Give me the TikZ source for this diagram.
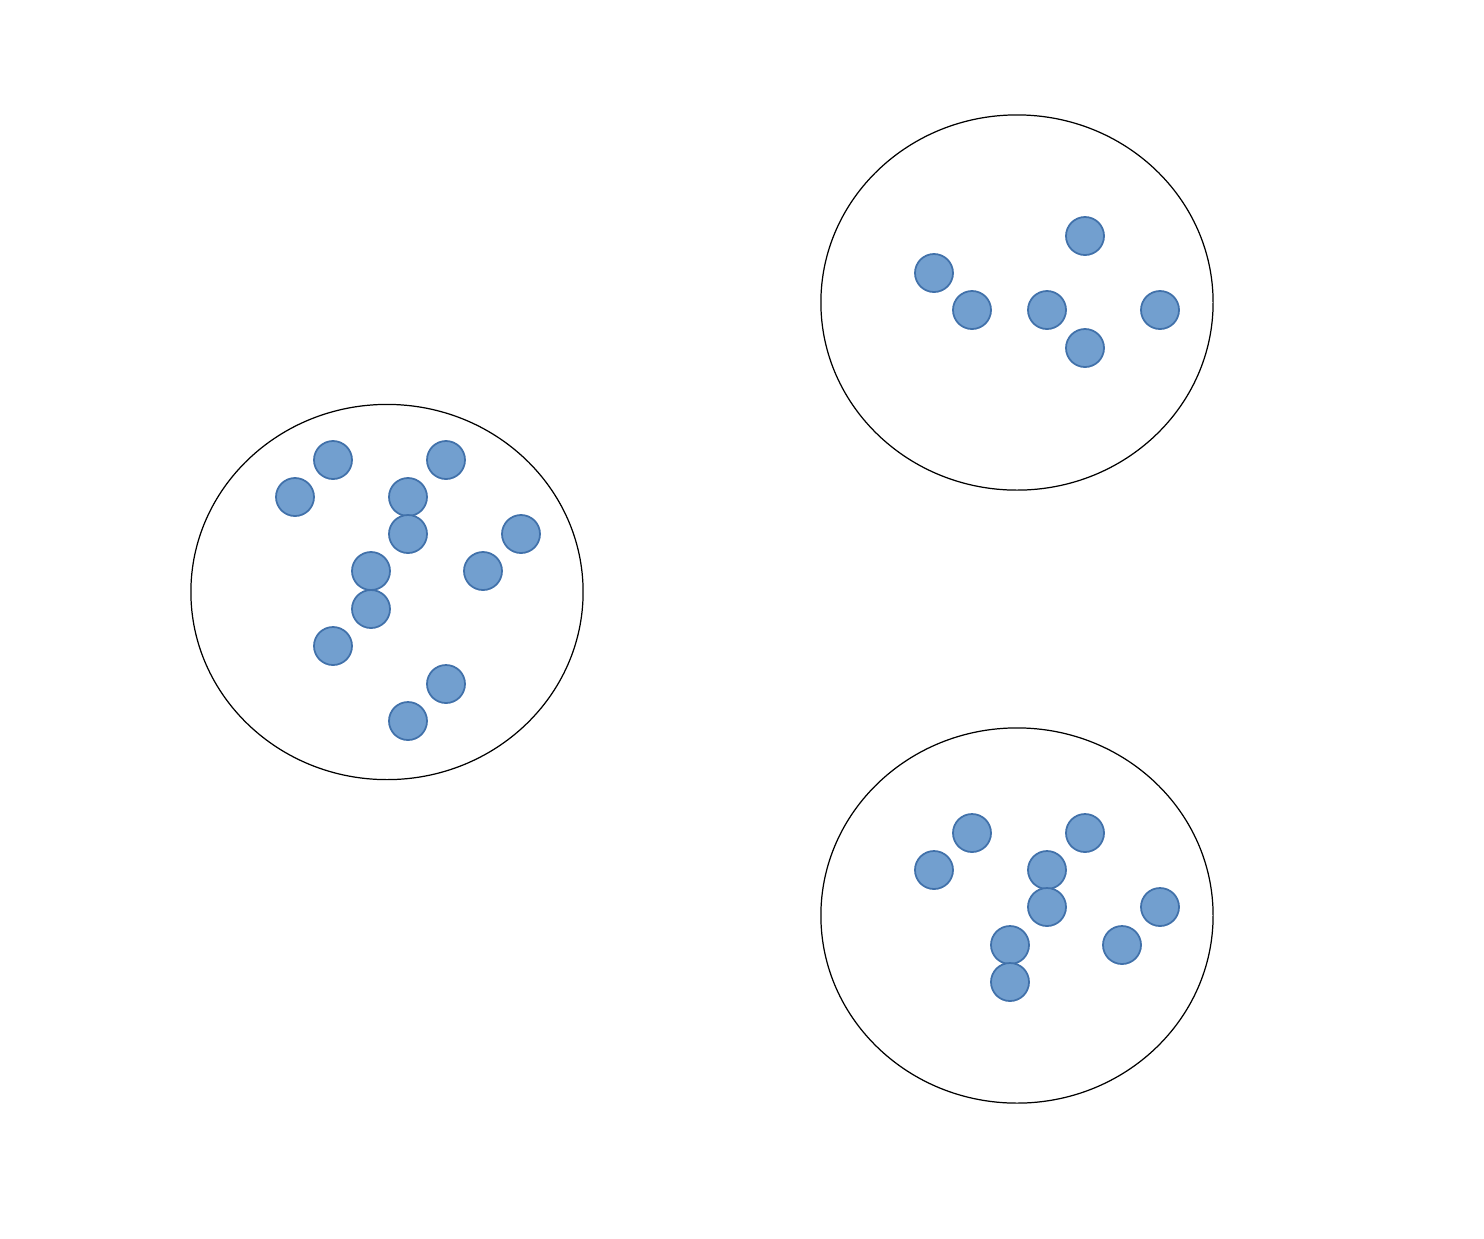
\documentclass[tikz,border=0pt]{standalone}
\usetikzlibrary{shapes.geometric}
\definecolor{dotfill}{RGB}{114,159,207}
\definecolor{dotline}{RGB}{65,113,170}
\begin{document}
\begin{tikzpicture}[
    x=0.01cm, y=-0.01cm,
    group/.style={
        draw=black, line width=0.35pt, ellipse,
        minimum width=3.92cm, minimum height=3.75cm, inner sep=0pt
    },
    item/.style={
        circle, fill=dotfill, draw=dotline, line width=0.5pt,
        minimum size=0.38cm, inner sep=0pt
    }
]
\useasboundingbox (0,0) rectangle (1484,1238);

% Groups
\node[group] (left) at (387,592) {};
\node[group] (upper) at (1017,302.5) {};
\node[group] (lower) at (1017,915.5) {};

% Items in the left group
\foreach \px/\py [count=\i] in {333/460, 446/460, 295/497, 408/497, 408/534,
        521/534, 371/571, 483/571, 371/609, 333/646, 446/684, 408/721}
    \node[item] (l\i) at (\px,\py) {};

% Items in the upper group
\foreach \px/\py [count=\i] in {1085/236, 934/273, 972/310, 1047/310,
        1160/310, 1085/348}
    \node[item] (u\i) at (\px,\py) {};

% Items in the lower group
\foreach \px/\py [count=\i] in {972/833, 1085/833, 934/870, 1047/870,
        1047/907, 1160/907, 1010/945, 1122/945, 1010/982}
    \node[item] (d\i) at (\px,\py) {};

\end{tikzpicture}
\end{document}
